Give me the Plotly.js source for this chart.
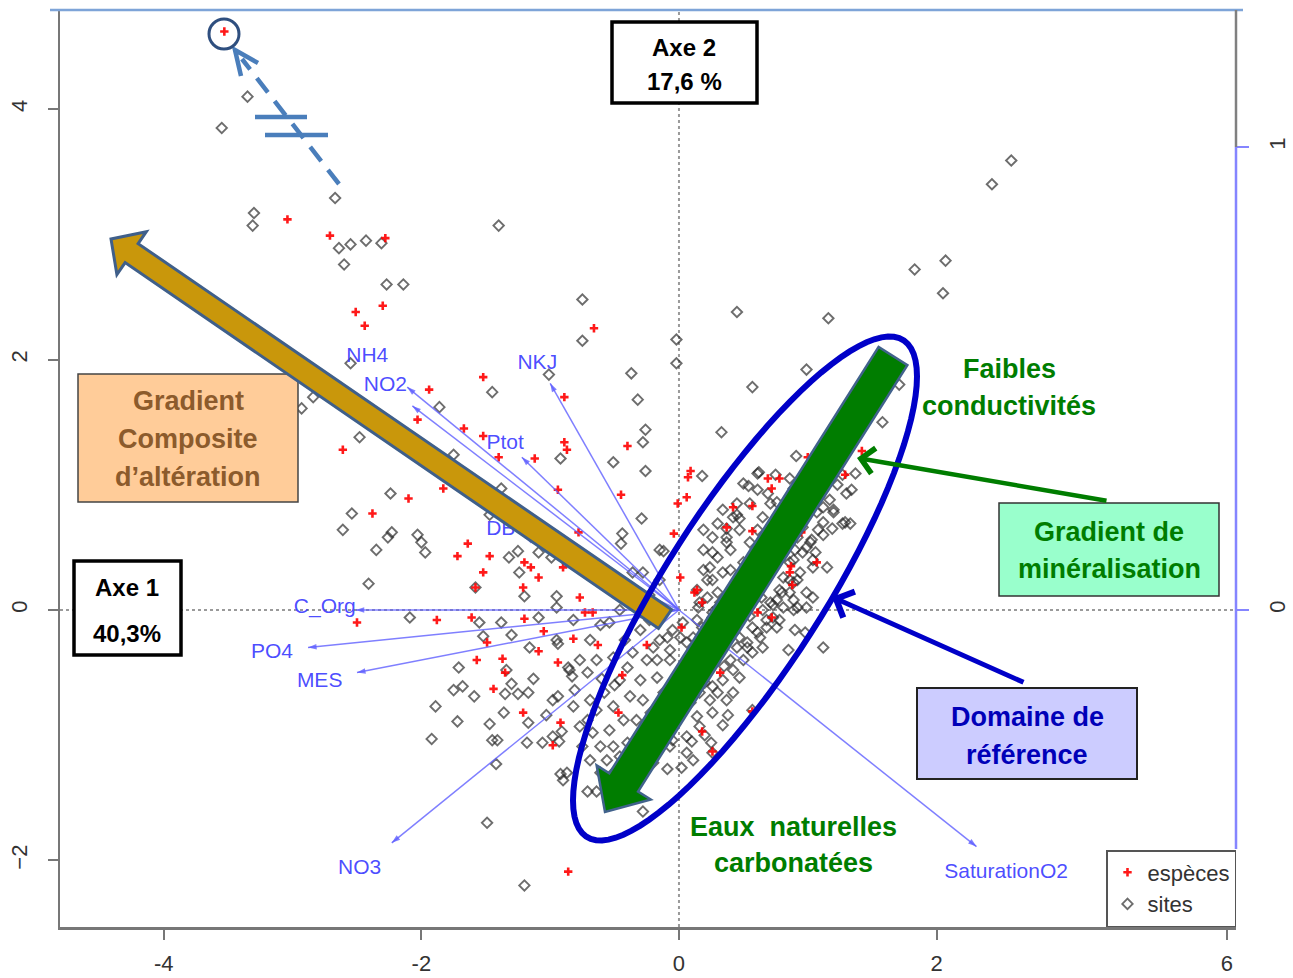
<!DOCTYPE html>
<html><head><meta charset="utf-8">
<script src="https://cdn.plot.ly/plotly-3.0.1.min.js"></script>
<style>html,body{margin:0;padding:0;background:#fff}</style>
</head><body><div id="chart" style="width:1293px;height:978px"></div>
<script>
// ---- data (axis 1, axis 2) ----
const sitePts = [
[-3.35,4.10],[-3.55,3.85],[-2.67,3.29],[-3.30,3.17],[-3.31,3.07],[-2.64,2.89],[-2.55,2.92],[-2.43,2.95],[-2.31,2.93],[-2.60,2.76],[-2.27,2.60],[-2.14,2.60],[-1.40,3.07],[-0.75,2.48],[-0.75,2.15],[-0.37,1.89],[-0.32,1.68],[-0.26,1.44],[-0.28,1.34],[-0.26,1.11],[-0.51,1.18],[-0.92,1.21],[-1.45,1.74],[-1.86,1.62],[-1.75,1.24],[-2.48,1.38],[-2.84,1.70],[-2.93,1.61],[-2.55,1.97],[-1.01,1.88],[-1.38,0.97],[-2.24,0.93],[-2.54,0.77],[-2.61,0.64],[-2.23,0.62],[-2.26,0.58],[-2.35,0.48],[-2.03,0.60],[-2.00,0.54],[-1.97,0.46],[-2.41,0.21],[-1.32,0.42],[-1.25,0.47],[-1.09,0.46],[-1.24,0.30],[-1.58,0.18],[-1.20,0.11],[-0.95,0.11],[-0.44,0.61],[-0.45,0.53],[-0.29,0.73],[-0.36,0.30],[-0.28,0.30],[-0.99,0.42],[-1.47,0.76],[-0.02,1.97],[-0.02,2.16],[0.99,1.92],[0.57,1.78],[0.33,1.42],[0.18,1.07],[1.58,1.50],[0.91,1.23],[0.54,0.99],[-0.12,0.47],[2.58,3.59],[2.43,3.40],[1.83,2.72],[2.07,2.79],[2.05,2.53],[1.16,2.33],[0.45,2.38],[1.71,1.80],[1.37,1.09],[1.34,0.96],[1.33,0.69],
[-2.09,-0.06],[-1.55,-0.10],[-1.38,-0.10],[-1.09,-0.06],[-0.95,0.02],[-0.82,-0.08],[-0.54,-0.10],[-1.52,-0.21],[-1.30,-0.20],[-0.95,-0.24],[-0.94,-0.27],[-1.16,-0.30],[-1.71,-0.46],[-1.34,-0.48],[-1.75,-0.64],[-1.68,-0.61],[-1.59,-0.69],[-1.35,-0.67],[-1.25,-0.67],[-1.17,-0.66],[-1.30,-0.59],[-1.89,-0.77],[-1.72,-0.89],[-1.36,-0.82],[-1.13,-0.55],[-0.86,-0.46],[-0.83,-0.53],[-1.47,-0.91],[-1.17,-0.90],[-1.03,-0.84],[-0.98,-0.72],[-0.94,-0.69],[-0.82,-0.77],[-1.92,-1.03],[-1.45,-1.04],[-1.41,-1.04],[-1.18,-1.06],[-1.06,-1.06],[-0.98,-1.01],[-0.91,-0.97],[-0.93,-1.05],[-1.42,-1.23],[-1.49,-1.70],[-1.20,-2.20],[-0.92,-1.31],[-0.90,-1.36],[-0.71,-1.45],[-0.64,-1.45],[-0.28,-1.61],[-0.09,-1.27],[0.02,-1.26],[0.11,-1.20],[0.25,-1.06],[0.26,-1.14],[0.34,-0.92],[0.38,-0.84],[0.57,-0.80],[1.12,-0.30],[1.04,0.10],[0.90,-0.16],[0.98,-0.18],[0.85,-0.32],
[0.30,0.69],[0.37,0.65],[0.45,0.76],[0.47,0.73],[0.62,1.10],[0.69,0.93],[0.76,0.86],[0.86,1.05],[0.89,0.97],[1.04,0.90],[1.20,0.80],[1.27,0.69],[1.19,0.65],[1.12,0.60],[1.03,0.56],[0.96,0.46],[0.89,0.40],[1.06,0.46],[1.15,0.34],[1.04,0.34],[0.94,0.30],[0.86,0.24],[0.80,0.14],[0.73,0.04],[0.89,0.08],[0.99,0.02],[0.76,-0.14],[0.68,-0.08],[0.63,-0.22],[0.53,-0.30],
[0.19,0.48],[0.26,0.46],[0.37,0.54],[0.24,0.34],[0.34,0.30],[0.22,0.24],[0.30,0.14],[0.16,0.06],[0.26,-0.02],[0.18,-0.14],[0.11,-0.22],[0.06,-0.26],[0.26,-0.14],[0.40,0.14],[0.47,0.26],[0.03,-0.10],[-0.05,-0.16],[-0.15,-0.24],[-0.07,-0.32],
[-0.77,-0.40],[-0.85,-0.48],[-0.64,-0.40],[-0.71,-0.50],[-0.51,-0.38],[-0.40,-0.46],[-0.36,-0.34],[-0.25,-0.40],[-0.17,-0.40],[-0.46,-0.56],[-0.30,-0.56],[-0.17,-0.54],[-0.07,-0.40],[0.01,-0.22],[-0.09,-0.22],[-0.20,-0.30],[-0.38,-0.69],[-0.28,-0.72],[-0.51,-0.77],[-0.64,-0.80],[-0.71,-0.88],[-0.77,-0.93],[-0.67,-0.98],[-0.54,-0.96],[-0.43,-0.88],[-0.33,-0.88],[-0.75,-1.09],[-0.61,-1.09],[-0.51,-1.09],[-0.69,-1.20],[-0.56,-1.20],[-0.46,-1.17],[-0.61,-1.30],[-0.51,-1.30],[-0.36,-1.28],[-0.20,-1.22],[-0.20,-1.09],[-0.07,-1.09],[-0.09,-0.88],[0.01,-0.82],[0.09,-0.74],[0.14,-0.85],[0.16,-0.66],[0.24,-0.72],[0.26,-0.61],[0.34,-0.56],[0.42,-0.48],[0.47,-0.54],[0.50,-0.40],[0.40,-0.40],[0.26,-0.40],[0.16,-0.46],[0.11,-0.54],[0.53,-0.26],[0.61,-0.18],[0.68,-0.14],[0.73,-0.06],[0.81,0.02],[0.86,0.14],[0.92,0.24],[0.57,-0.34],[0.65,-0.30],[0.42,-0.66],[0.37,-0.72],[0.26,-0.82],[0.16,-0.93],[0.06,-1.01],[-0.05,-1.04],[0.06,-1.14],[-0.36,-1.41],[-0.46,-1.46],[-0.87,-1.30],
[0.61,1.09],[0.75,1.08],[1.27,1.08],[1.23,1.00],[1.30,0.93],[1.17,0.88],[1.20,0.78],[1.07,0.78],[1.12,0.70],[1.29,0.70],[0.96,0.66],[1.02,0.54],[0.90,0.48],[0.86,0.38],[0.81,0.26],[0.89,0.22],[1.04,0.40],[0.78,0.16],[0.71,0.06],[0.92,0.02],[0.50,1.01],[0.55,0.85],[0.45,0.85],[0.34,0.80],[0.42,0.74],[0.19,0.64],[0.26,0.58],[0.37,0.58],[0.47,0.64],[0.30,0.42],[0.40,0.48],[0.19,0.32],[0.26,0.24],[0.40,0.32],[0.14,0.16],[0.22,0.10],[0.32,0.06],[0.15,0.02],[0.14,-0.08],[0.24,-0.10],[0.50,0.38],[0.55,0.54],[0.61,0.64],[0.65,0.74],[0.71,0.85],[0.61,0.96],
[0.26,-0.06],[0.37,-0.14],[0.47,-0.22],[0.57,-0.14],[0.65,0.00],[0.76,0.08],[0.78,-0.08],[0.89,0.00],[0.99,0.14],[0.16,-0.26],[0.26,-0.34],
[-0.69,-0.24],[-0.61,-0.12],[-0.42,-0.24],[-0.30,-0.16],[-0.23,-0.08],[-0.46,0.00],[-0.69,-0.72],[-0.81,-0.64],[-0.42,0.16],[-0.23,0.12],[-0.15,0.24],[-0.15,0.48],
[0.05,-0.45],[0.12,-0.30],[0.20,-0.20],[0.33,-0.26],[0.44,-0.10],[0.52,0.05],[0.58,0.20],[0.62,0.35],[0.68,0.46],[0.74,0.58],[0.80,0.70],[0.85,0.80],[0.93,0.88],[0.98,0.76],[1.10,0.95],[1.15,1.02],[1.08,0.64],[0.99,0.50],[0.92,0.58],[0.84,0.52],[0.78,0.40],[0.70,0.30],[0.64,0.10],[0.55,-0.05],[0.45,-0.30],[0.35,-0.45],[0.30,-0.66],[0.20,-0.58],[0.08,-0.62],[-0.02,-0.70],[-0.12,-0.66],[-0.22,-0.82],[-0.14,-1.00],[-0.30,-1.00],[-0.40,-1.06],[-0.26,-1.15],[-0.58,-0.66],[-0.50,-0.60],[-0.60,-0.55],[0.02,-0.56],[-0.05,-0.85],[0.20,-1.00],[0.10,-1.05],[0.30,0.02],[0.36,-0.02],[0.48,0.12],[0.56,0.30],[0.66,0.56],[0.72,0.68],[0.90,0.68],[1.00,0.84],[1.12,0.82]
];
const speciesPts = [
[-3.53,4.62],[-3.04,3.12],[-2.71,2.99],[-2.28,2.97],[-2.51,2.38],[-2.30,2.43],[-2.44,2.27],[-0.66,2.25],[-1.52,1.86],[-1.94,1.76],[-0.89,1.70],[-2.03,1.52],[-1.67,1.45],[-1.52,1.39],[-1.40,1.22],[-1.12,1.21],[-0.89,1.34],[-0.87,1.28],[-0.40,1.31],[-2.61,1.28],[-0.94,0.96],[-0.45,0.92],[-1.83,0.97],[-2.10,0.89],[-2.38,0.77],[-1.64,0.53],[-1.72,0.43],[-1.47,0.43],[-0.78,0.62],[-1.20,0.38],[-1.15,0.34],[-1.52,0.30],[-1.09,0.26],[-1.21,0.18],[-0.77,0.10],[-0.90,0.34],[0.09,1.11],[0.07,1.06],[0.06,0.90],[-0.01,0.85],[-0.04,0.61],[0.57,0.83],[0.72,0.97],[0.78,1.05],[1.42,1.27],[1.00,1.22],[0.37,0.66],[0.57,0.63],[0.14,0.16],[0.01,0.26],[-2.50,-0.10],[-1.88,-0.08],[-1.58,0.18],[-1.61,-0.06],[-1.20,-0.07],[-1.05,-0.17],[-0.73,-0.02],[-0.67,-0.02],[-0.82,-0.23],[-1.49,-0.26],[-1.09,-0.33],[-0.63,-0.28],[-1.57,-0.40],[-1.37,-0.39],[-0.94,-0.42],[-1.35,-0.50],[-1.44,-0.63],[-1.21,-0.82],[-0.92,-0.90],[-0.98,-1.08],[-0.86,-2.09],[0.12,0.14],[0.18,0.06],[-0.25,-0.28],[0.02,-0.14],[-0.44,-0.52],[-0.47,-0.82],[0.18,-0.97],[0.26,-1.13],[0.57,-0.81],[0.87,0.35],[0.61,-0.02],[0.32,-0.50],[0.69,1.05],[0.42,0.82],[0.95,0.62],[1.07,0.38],[0.86,0.30],[0.88,0.20],[0.42,0.06],[0.72,-0.06],[1.29,1.08]
];
const varNames  = ['NH4','NO2','NKJ','Ptot','DBO','C_Org','PO4','MES','NO3','SaturationO2'];
const varTipX   = [-2.11,-2.07,-1.00,-1.22,-1.20,-2.51,-2.88,-2.50,-2.23, 2.31];
const varTipY   = [ 1.78, 1.63, 1.81, 1.22, 0.58, 0.00,-0.30,-0.50,-1.86,-1.89];
const varLabelX = [-2.42,-2.28,-1.10,-1.35,-1.32,-2.75,-3.16,-2.79,-2.48, 2.54];
const varLabelY = [ 2.02, 1.79, 1.97, 1.33, 0.64, 0.02,-0.34,-0.57,-2.07,-2.10];
const xTickVals = [-4,-2,0,2,4.255];
const xTickText = ['-4','-2','0','2','6'];
const yTickVals = [-2,0,2,4];
const y2TickVals = [0,1];

// ---- helpers for overlay drawing (reference pixel -> paper) ----
const PX = px => (px-60)/1176;
const PY = py => (927-py)/917;
function blockArrow(c,t,w,h,L){
  const dx=t[0]-c[0], dy=t[1]-c[1], len=Math.hypot(dx,dy);
  const ux=dx/len, uy=dy/len, nx=-uy, ny=ux;
  const bx=t[0]-L*ux, by=t[1]-L*uy;
  const pts=[[c[0]+w*nx,c[1]+w*ny],[bx+w*nx,by+w*ny],[bx+h*nx,by+h*ny],t,[bx-h*nx,by-h*ny],[bx-w*nx,by-w*ny],[c[0]-w*nx,c[1]-w*ny]];
  return 'M'+pts.map(p=>PX(p[0]).toFixed(5)+','+PY(p[1]).toFixed(5)).join('L')+'Z';
}
function ellipsePath(cx,cy,xh,k,m){
  let s='';
  for(let i=0;i<=96;i++){
    const a=i/96*2*Math.PI;
    const x=cx+xh*Math.cos(a), y=cy+k*Math.cos(a)+m*Math.sin(a);
    s+=(i?'L':'M')+PX(x).toFixed(5)+','+PY(y).toFixed(5);
  }
  return s+'Z';
}
const FONT='Liberation Sans, Arial, sans-serif';
const vecColor='rgba(95,95,255,0.8)';
// pixels per unit of the main axes (for arrowhead orientation only)
const KX=1176/(4.325+4.806), KY=917/(4.792+2.532);

const traces=[];
traces.push({type:'scatter',mode:'markers',name:'sites',legendrank:2,
  x:sitePts.map(p=>p[0]),y:sitePts.map(p=>p[1]),
  marker:{symbol:'diamond-open',size:8,color:'rgba(40,40,40,0.68)',line:{width:1.9,color:'rgba(40,40,40,0.68)'}},
  hoverinfo:'skip'});
traces.push({type:'scatter',mode:'markers',name:'espèces',legendrank:1,
  x:speciesPts.map(p=>p[0]),y:speciesPts.map(p=>p[1]),
  marker:{symbol:'cross-thin-open',size:6,color:'rgba(255,0,0,0.9)',line:{width:2.6,color:'rgba(255,0,0,0.9)'}},
  hoverinfo:'skip'});
varNames.forEach((n,i)=>{
  traces.push({type:'scatter',mode:'lines',showlegend:false,hoverinfo:'skip',
    x:[0,varTipX[i]],y:[0,varTipY[i]],
    line:{color:vecColor,width:1.5}});
});
traces.push({type:'scatter',mode:'markers',showlegend:false,hoverinfo:'skip',
  x:varTipX,y:varTipY,
  marker:{symbol:'arrow',size:9,color:vecColor,line:{width:0},
    angle:varTipX.map((x,i)=>Math.atan2(x*KX,varTipY[i]*KY)*180/Math.PI)}});
traces.push({type:'scatter',mode:'text',showlegend:false,hoverinfo:'skip',
  x:varLabelX,y:varLabelY,text:varNames,
  textfont:{family:FONT,size:21,color:'rgba(60,60,255,0.92)'}});
traces.push({type:'scatter',x:[],y:[],yaxis:'y2',showlegend:false,hoverinfo:'skip'});

const shapes=[
  {type:'line',xref:'x',yref:'paper',x0:0,x1:0,y0:0,y1:1,line:{color:'#9a9a9a',width:2,dash:'dot'},layer:'below'},
  {type:'line',xref:'paper',yref:'y',x0:0,x1:1,y0:0,y1:0,line:{color:'#9a9a9a',width:2,dash:'dot'},layer:'below'},
  {type:'line',xref:'paper',yref:'paper',x0:PX(50),x1:PX(1243),y0:1,y1:1,line:{color:'#7ea4d8',width:2.5}},
  {type:'line',xref:'paper',yref:'paper',x0:1,x1:1,y0:1,y1:PY(147),line:{color:'#808080',width:2.5}},
  {type:'line',xref:'paper',yref:'paper',x0:1,x1:1,y0:PY(147),y1:PY(849),line:{color:'#8585ff',width:2.5}},
  {type:'rect',xref:'paper',yref:'paper',x0:PX(78),x1:PX(298),y0:PY(374),y1:PY(502),fillcolor:'#ffcc99',line:{color:'#444',width:1.5}},
  {type:'rect',xref:'paper',yref:'paper',x0:PX(999),x1:PX(1219),y0:PY(503),y1:PY(596),fillcolor:'#99ffcc',line:{color:'#333',width:1.5}},
  {type:'rect',xref:'paper',yref:'paper',x0:PX(917),x1:PX(1137),y0:PY(688),y1:PY(779),fillcolor:'#ccccff',line:{color:'#222',width:2}},
  {type:'rect',xref:'paper',yref:'paper',x0:PX(74),x1:PX(181),y0:PY(561),y1:PY(655),fillcolor:'#ffffff',line:{color:'#000',width:3.5}},
  {type:'rect',xref:'paper',yref:'paper',x0:PX(612),x1:PX(757),y0:PY(22),y1:PY(103),fillcolor:'#ffffff',line:{color:'#000',width:3.5}},
  {type:'path',xref:'paper',yref:'paper',path:blockArrow([665,619],[111,239],11.5,26,25),fillcolor:'#c9970b',line:{color:'#3f5f8a',width:3}},
  {type:'path',xref:'paper',yref:'paper',path:blockArrow([893,356],[605,812],17,32,35),fillcolor:'#007d00',line:{color:'#41628c',width:2.5}},
  {type:'path',xref:'paper',yref:'paper',path:ellipsePath(745,588.5,172,-212,136.2),line:{color:'#0000c8',width:6}},
  {type:'line',xref:'paper',yref:'paper',x0:PX(339),y0:PY(184),x1:PX(242),y1:PY(59),line:{color:'#4a7ebb',width:4.5,dash:'18px,11px'}},
  {type:'path',xref:'paper',yref:'paper',path:'M'+PX(258)+','+PY(63)+'L'+PX(235)+','+PY(50)+'L'+PX(241)+','+PY(76),line:{color:'#4a7ebb',width:4.5}},
  {type:'line',xref:'paper',yref:'paper',x0:PX(255),x1:PX(307),y0:PY(117),y1:PY(117),line:{color:'#4a7ebb',width:4.5}},
  {type:'line',xref:'paper',yref:'paper',x0:PX(265),x1:PX(328),y0:PY(135),y1:PY(135),line:{color:'#4a7ebb',width:4.5}},
  {type:'circle',xref:'paper',yref:'paper',x0:PX(209),x1:PX(239),y0:PY(49),y1:PY(19),line:{color:'#2f4f7f',width:3}}
];
shapes.forEach((s,i)=>{ if(i>=2 && !s.layer) s.layer='above'; });

function txt(t,px,py,color,size){
  return {xref:'paper',yref:'paper',x:PX(px),y:PY(py),xanchor:'center',yanchor:'middle',
    text:'<b>'+t+'</b>',showarrow:false,font:{family:FONT,size:size||27,color:color}};
}
const brown='#8c5b2c', green='#007d00', navy='#0000b8';
const annotations=[
  txt('Gradient',188,401,brown), txt('Composite',188,439,brown), txt('d’altération',188,477,brown),
  txt('Gradient de',1109,532,green), txt('minéralisation',1109,569,green),
  txt('Domaine de',1027,717,navy), txt('référence',1027,755,navy),
  txt('Faibles',1009,369,green), txt('conductivités',1009,406,green),
  txt('Eaux\u00a0 naturelles',793,827,green), txt('carbonatées',793,863,green),
  txt('Axe 1',127,587,'#000',24), txt('40,3%',127,633,'#000',24),
  txt('Axe 2',684,47,'#000',24), txt('17,6 %',684,81,'#000',24),
  {xref:'paper',yref:'paper',x:PX(857),y:PY(458),ax:251,ay:43,text:'',showarrow:true,arrowhead:4,arrowsize:1.1,arrowwidth:4.5,arrowcolor:green,standoff:0},
  {xref:'paper',yref:'paper',x:PX(832),y:PY(597),ax:193,ay:86,text:'',showarrow:true,arrowhead:4,arrowsize:1.1,arrowwidth:5,arrowcolor:'#0000c8',standoff:0}
];

const tickFont={family:FONT,size:22,color:'#333'};
const layout={
  width:1293,height:978,
  margin:{l:60,r:57,t:10,b:51,pad:0},
  paper_bgcolor:'#fff',plot_bgcolor:'#fff',
  showlegend:true,
  legend:{x:1,xanchor:'right',y:0,yanchor:'bottom',bgcolor:'#fff',bordercolor:'#555',borderwidth:1.5,
    font:{family:FONT,size:22,color:'#333'},tracegroupgap:0,itemwidth:30},
  xaxis:{range:[-4.806,4.325],tickvals:xTickVals,ticktext:xTickText,ticks:'outside',ticklen:10,tickwidth:2,tickcolor:'#777',
    showline:true,linecolor:'#777',linewidth:2.5,showgrid:false,zeroline:false,tickfont:tickFont,ticklabelstandoff:5},
  yaxis:{range:[-2.532,4.792],tickvals:yTickVals,ticks:'outside',ticklen:10,tickwidth:2,tickcolor:'#777',tickangle:-90,
    showline:true,linecolor:'#777',linewidth:2.5,showgrid:false,zeroline:false,tickfont:tickFont,ticklabelstandoff:12},
  yaxis2:{overlaying:'y',side:'right',anchor:'x',range:[-0.685,1.296],tickvals:y2TickVals,ticks:'outside',ticklen:12,tickwidth:2,
    tickcolor:'#8585ff',tickangle:-90,showline:false,showgrid:false,zeroline:false,tickfont:tickFont,ticklabelstandoff:10},
  shapes:shapes,annotations:annotations,hovermode:false
};
Plotly.newPlot('chart',traces,layout,{displayModeBar:false,staticPlot:true});
</script></body></html>
